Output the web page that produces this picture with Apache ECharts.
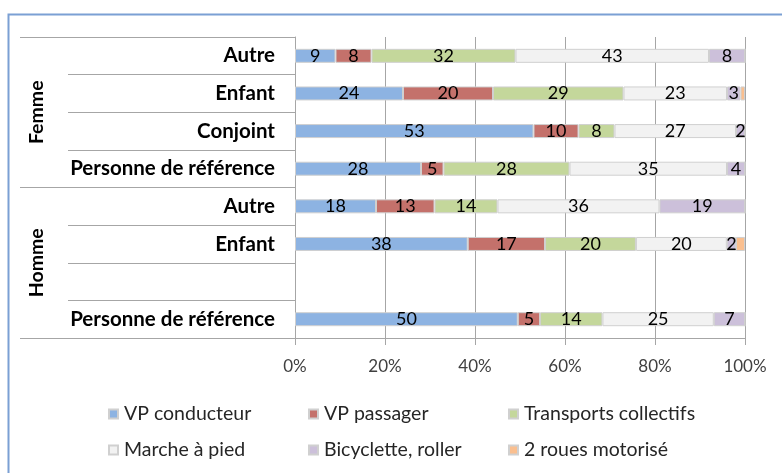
<!DOCTYPE html>
<html>
<head>
<meta charset="utf-8">
<script src="https://cdn.jsdelivr.net/npm/echarts@6/dist/echarts.min.js"></script>
<style>
  html, body { margin: 0; padding: 0; background: #fff; }
  #chart { width: 782px; height: 473px; }
</style>
</head>
<body>
<div id="chart"></div>
<script>
// lignes du haut vers le bas
const groups = ['Femme', 'Homme'];
const roles = ['Autre', 'Enfant', 'Conjoint', 'Personne de référence', 'Autre', 'Enfant', '', 'Personne de référence'];
const modes = ['VP conducteur', 'VP passager', 'Transports collectifs', 'Marche à pied', 'Bicyclette, roller', '2 roues motorisé'];

// valeurs (%) par mode, une valeur par ligne
const vpConducteur = [9, 24, 53, 28, 18, 38, null, 50];
const vpPassager = [8, 20, 10, 5, 13, 17, null, 5];
const transports = [32, 29, 8, 28, 14, 20, null, 14];
const marche = [43, 23, 27, 35, 36, 20, null, 25];
const bicyclette = [8, 3, 2, 4, 19, 2, null, 7];
const deuxRoues = [0, 1, 0, 0, 0, 2, null, 0];

const xTicks = [0, 20, 40, 60, 80, 100];

const colors = ['#8db3e2', '#c4716b', '#c4d79b', '#f2f2f2', '#ccc0da', '#fabf8f'];
const FONT = 'Lato';
const TXT = 19.5; // texte
const NUM = 17;   // chiffres

const rawSeries = [vpConducteur, vpPassager, transports, marche, bicyclette, deuxRoues];
// 100% empilé : on normalise chaque ligne
const totals = roles.map((r, i) => rawSeries.reduce((s, arr) => s + (arr[i] || 0), 0));

const chart = echarts.init(document.getElementById('chart'));

const seriesArr = modes.map((name, k) => ({
  name: name,
  type: 'bar',
  stack: 'total',
  barWidth: 14,
  data: rawSeries[k].map((v, i) => v == null ? null : (totals[i] ? v / totals[i] * 100 : 0)),
  itemStyle: { color: colors[k], borderColor: '#d0d0d0', borderWidth: 1 },
  label: {
    show: k < 5,
    position: 'inside',
    fontFamily: FONT,
    fontSize: 18,
    color: '#000',
    formatter: p => {
      const v = rawSeries[k][p.dataIndex];
      return v ? String(v) : '';
    }
  },
  emphasis: { disabled: true },
  animation: false
}));

const legendBase = {
  orient: 'vertical',
  top: 399,
  itemWidth: 9,
  itemHeight: 9,
  itemGap: 16,
  icon: 'rect',
  textStyle: { fontFamily: FONT, fontSize: TXT, color: '#262626', padding: [0, 0, 0, 1] },
  selectedMode: false
};

const option = {
  animation: false,
  grid: { left: 295, right: 37, top: 37, bottom: 135 },
  xAxis: {
    type: 'value',
    min: 0,
    max: 100,
    interval: 20,
    data: xTicks,
    axisLine: { show: true, lineStyle: { color: '#a6a6a6', width: 1 } },
    axisTick: { show: true, length: 7, lineStyle: { color: '#a6a6a6' } },
    splitLine: { show: true, lineStyle: { color: '#a6a6a6', width: 1 } },
    axisLabel: { margin: 20, fontFamily: FONT, fontSize: NUM, color: '#404040', formatter: '{value}%' }
  },
  yAxis: [
    {
      type: 'category',
      inverse: true,
      data: roles.map((r, i) => 'r' + i),
      axisLine: { show: true, lineStyle: { color: '#a6a6a6' } },
      axisTick: { show: true, length: 227, lineStyle: { color: '#a6a6a6' } },
      axisLabel: {
        margin: 20,
        fontFamily: FONT,
        fontWeight: 'bold',
        fontSize: 20.5,
        color: '#000',
        formatter: (v, i) => roles[i]
      }
    },
    {
      type: 'category',
      inverse: true,
      position: 'left',
      data: groups,
      axisLine: { show: false },
      axisTick: { show: true, length: 275, lineStyle: { color: '#a6a6a6' } },
      axisLabel: {
        margin: 258,
        rotate: 90,
        align: 'center',
        verticalAlign: 'middle',
        fontFamily: FONT,
        fontWeight: 'bold',
        fontSize: TXT,
        color: '#000'
      }
    }
  ],
  legend: [
    Object.assign({}, legendBase, { left: 103, data: [modes[0], modes[3]] }),
    Object.assign({}, legendBase, { left: 303, data: [modes[1], modes[4]] }),
    Object.assign({}, legendBase, { left: 503, data: [modes[2], modes[5]] })
  ],
  graphic: [
    {
      type: 'rect',
      left: 6,
      top: 12,
      shape: { width: 820, height: 520 },
      style: { fill: 'none', stroke: '#7ba0d4', lineWidth: 2 },
      silent: true
    }
  ],
  series: seriesArr
};

chart.setOption(option);
</script>
</body>
</html>
